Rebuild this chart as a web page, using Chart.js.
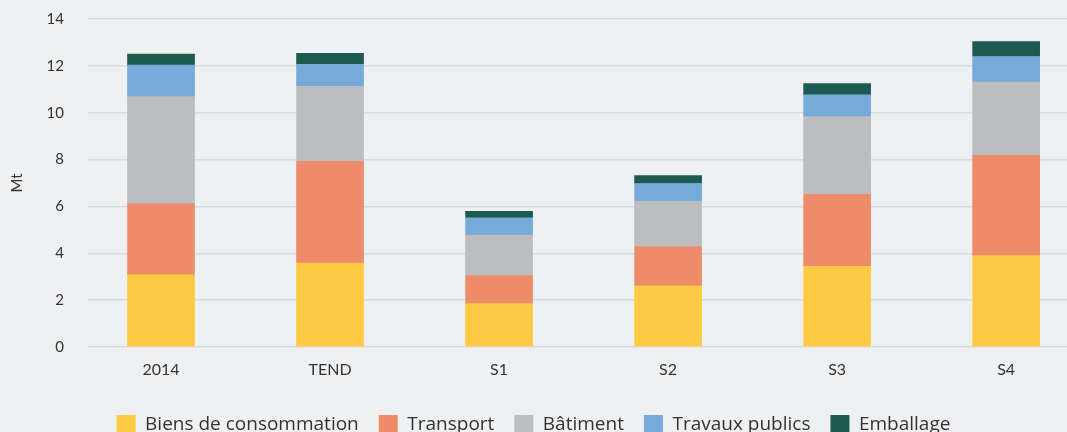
<!DOCTYPE html>
<html lang="fr">
<head>
  <meta charset="UTF-8" />
  <title>Mt par secteur</title>
  <script src="https://cdn.jsdelivr.net/npm/chart.js"></script>
  <style>
    html, body { margin: 0; padding: 0; background: #eff0f2; overflow: hidden; }
    #wrap { width: 1067px; height: 444px; }
  </style>
</head>
<body>
<div id="wrap"><canvas id="chart"></canvas></div>
<script>
  const categories = ['2014', 'TEND', 'S1', 'S2', 'S3', 'S4'];
  const biens = [3.08, 3.58, 1.85, 2.61, 3.44, 3.90];
  const transport = [3.03, 4.34, 1.20, 1.68, 3.08, 4.28];
  const batiment = [4.58, 3.21, 1.73, 1.93, 3.31, 3.13];
  const travaux = [1.34, 0.93, 0.73, 0.76, 0.93, 1.09];
  const emballage = [0.47, 0.48, 0.28, 0.34, 0.48, 0.64];
  const yTicks = [0, 2, 4, 6, 8, 10, 12, 14];

  const textColor = '#333333';
  const font = 'Lato, "Open Sans", sans-serif';

  function ds(label, values, color) {
    return {
      label: label,
      data: values.map((v, i) => ({ x: i, y: v })),
      backgroundColor: color,
      borderWidth: 0,
      barThickness: 67,
      stack: 's'
    };
  }

  new Chart(document.getElementById('chart'), {
    type: 'bar',
    data: {
      datasets: [
        ds('Biens de consommation', biens, '#fdca43'),
        ds('Transport', transport, '#ee8c6a'),
        ds('Bâtiment', batiment, '#bcbdc0'),
        ds('Travaux publics', travaux, '#76aad8'),
        ds('Emballage', emballage, '#1c5a52')
      ]
    },
    options: {
      responsive: true,
      maintainAspectRatio: false,
      animation: false,
      layout: { padding: 0 },
      plugins: {
        tooltip: { enabled: false },
        legend: {
          position: 'bottom',
          labels: {
            color: textColor,
            font: { family: '"Open Sans", sans-serif', size: 19 },
            boxWidth: 19,
            boxHeight: 19,
            padding: 20
          }
        }
      },
      scales: {
        x: {
          type: 'linear',
          stacked: true,
          min: -0.432,
          max: 5.36,
          offset: false,
          grid: { display: false },
          border: { display: false },
          afterBuildTicks: (axis) => { axis.ticks = categories.map((c, i) => ({ value: i })); },
          afterFit: (axis) => { axis.height = 48; },
          ticks: {
            color: textColor,
            font: { family: font, size: 16 },
            padding: 5,
            callback: (v) => categories[v]
          }
        },
        y: {
          stacked: true,
          min: 0,
          max: 14,
          afterBuildTicks: (axis) => { axis.ticks = yTicks.map(v => ({ value: v })); },
          afterFit: (axis) => {
            axis.width = 88;
            axis.paddingTop = 19;
            axis.paddingBottom = 0;
          },
          grid: { color: '#d9dadc', lineWidth: 1.5, drawTicks: false },
          border: { display: false },
          ticks: {
            color: textColor,
            font: { family: font, size: 15 },
            padding: 24
          },
          title: {
            display: true,
            text: 'Mt',
            color: textColor,
            font: { family: font, size: 15 },
            padding: { top: 8, bottom: 0 }
          }
        }
      }
    }
  });
</script>
</body>
</html>
